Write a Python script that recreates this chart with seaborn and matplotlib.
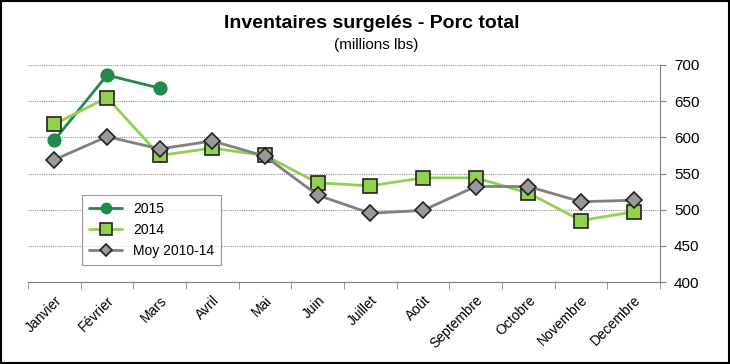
import pandas as pd
import matplotlib.pyplot as plt
import numpy as np
import seaborn as sns

mois = ["Janvier", "Février", "Mars", "Avril", "Mai", "Juin", "Juillet",
        "Août", "Septembre", "Octobre", "Novembre", "Decembre"]
v2015 = [596, 686, 668]
v2014 = [618, 655, 575, 585, 575, 537, 533, 544, 544, 523, 485, 497]
moy = [569, 601, 584, 595, 574, 520, 495, 499, 532, 532, 511, 513]

sns.set_style("white")
plt.rcParams['font.family'] = ['Liberation Sans', 'DejaVu Sans']
plt.rcParams['text.color'] = 'black'
plt.rcParams['xtick.color'] = 'black'
plt.rcParams['ytick.color'] = 'black'

fig = plt.figure(figsize=(7.3, 3.64), dpi=100)
ax = fig.add_axes([28/730, 1-282/364, 632/730, 217/364])

pos = np.arange(len(mois))
styles = [
    ("2015", v2015, dict(color="#1f8a4c", marker="o", markersize=9,
                         markerfacecolor="#1f8a4c", markeredgecolor="#1f8a4c")),
    ("2014", v2014, dict(color="#92d050", marker="s", markersize=10,
                         markerfacecolor="#92d050", markeredgecolor="#222222")),
    ("Moy 2010-14", moy, dict(color="#808080", marker="D", markersize=8,
                              markerfacecolor="#999999", markeredgecolor="#222222")),
]
for name, vals, st in styles:
    df = pd.DataFrame({"x": pos[:len(vals)], "y": vals})
    sns.lineplot(data=df, x="x", y="y", ax=ax, label=name, linewidth=2,
                 markeredgewidth=1.2, **st)

ax.set_xlim(-0.5, 11.5)
ax.set_ylim(400, 700)
ax.set_xlabel("")
ax.set_ylabel("")
ax.yaxis.tick_right()
ax.set_yticks(range(400, 701, 50))
ax.tick_params(axis="y", which="major", direction="out", length=4, color="#808080",
               labelsize=11, pad=6, right=True, labelcolor="black")
ax.set_xticks(pos)
ax.set_xticklabels(mois, rotation=45, ha="right", rotation_mode="anchor", fontsize=10)
ax.set_xticks(np.arange(-0.5, 12, 1), minor=True)
ax.tick_params(axis="x", which="major", length=0, pad=8, labelcolor="black")
ax.tick_params(axis="x", which="minor", direction="out", length=5, color="#808080", bottom=True)
ax.grid(axis="y", color="#909090", linestyle=(0, (1, 1)), linewidth=0.8)
for s in ["top", "left"]:
    ax.spines[s].set_visible(False)
for s in ["right", "bottom"]:
    ax.spines[s].set_color("#808080")
    ax.spines[s].set_linewidth(0.8)

leg = ax.legend(loc="upper left", bbox_to_anchor=((82-28)/632, (282-195)/217), fontsize=10,
                frameon=True, fancybox=False, edgecolor="#808080", borderpad=0.5,
                handlelength=2.4, labelspacing=0.5, markerscale=0.8, borderaxespad=0)
leg.get_frame().set_linewidth(0.8)

fig.text(372/730, 1-24/364, "Inventaires surgelés - Porc total", ha="center", va="center",
         fontsize=14, fontweight="bold")
fig.text(376/730, 1-45/364, "(millions lbs)", ha="center", va="center", fontsize=11)

fig.patches.append(plt.Rectangle((0.002, 0.003), 0.996, 0.994, transform=fig.transFigure,
                                 fill=False, edgecolor="black", linewidth=1.5))

fig.savefig("out.png", dpi=100)
